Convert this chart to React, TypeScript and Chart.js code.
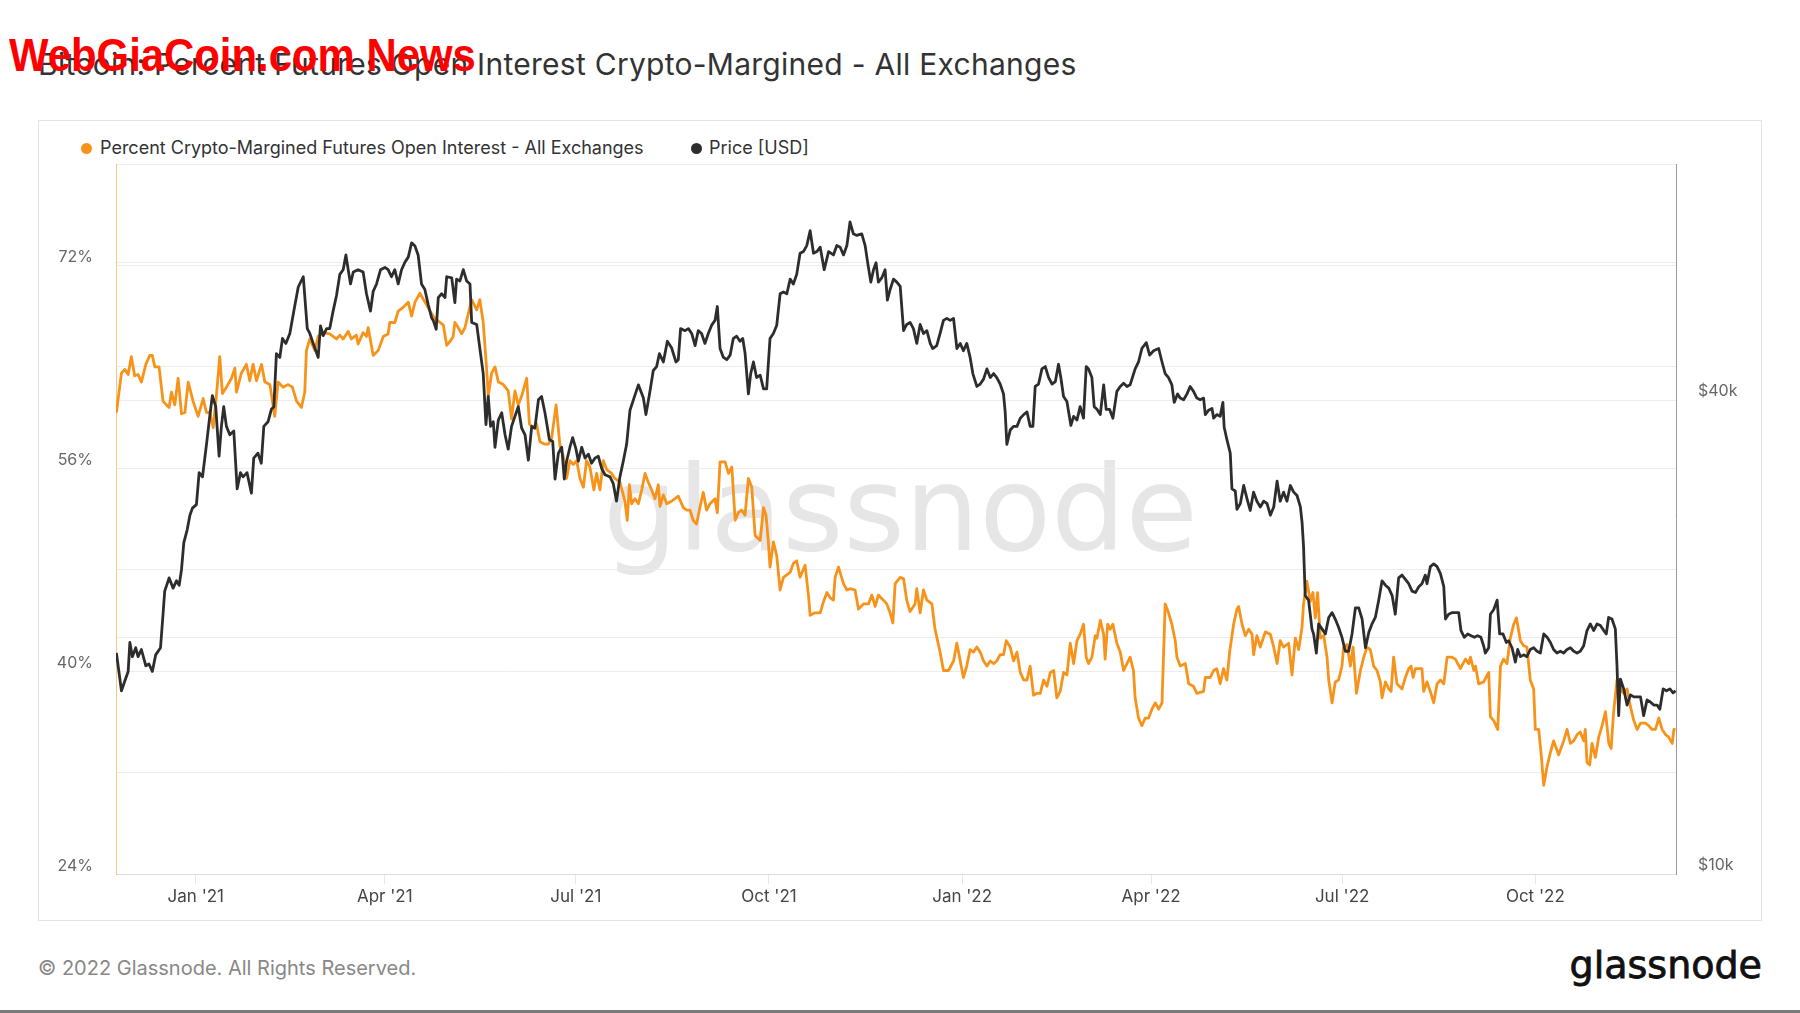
import React, { useEffect, useRef } from "react";
import { Chart, registerables } from "chart.js";

Chart.register(...registerables);

const TITLE = "Bitcoin: Percent Futures Open Interest Crypto-Margined - All Exchanges";
const OVERLAY = "WebGiaCoin.com News";
const LEGEND_OI = "Percent Crypto-Margined Futures Open Interest - All Exchanges";
const LEGEND_PRICE = "Price [USD]";
const FOOTER = "© 2022 Glassnode. All Rights Reserved.";
const WATERMARK = "glassnode";

// x values are days since 1 Jan 2021
const dayMin = -38;
const dayMax = 705;
const quarterTickDays = [0, 90, 181, 273, 365, 455, 546, 638];
const quarterTickLabels = ["Jan '21", "Apr '21", "Jul '21", "Oct '21", "Jan '22", "Apr '22", "Jul '22", "Oct '22"];
const percentGridTicks = [24, 32, 40, 48, 56, 64, 72, 80];
const percentLabelTicks = [24, 40, 56, 72];
const priceGridTicks = [10000, 20000, 40000, 60000, 80000];
const priceLabelTicks = [10000, 40000];

// [day, percent]
const percentOI: [number, number][] = [
  [-37.8, 60.4], [-35.4, 63.5], [-33.8, 63.8], [-32.2, 63.4], [-30.7, 64.8], [-29.1, 63.3], [-27.5, 63.4], [-25.9, 62.8],
  [-23.8, 64.2], [-21.9, 64.9], [-20.7, 64.9], [-19.5, 64.0], [-17.5, 64.0], [-15.6, 61.3], [-14.0, 61.0], [-12.7, 60.8],
  [-11.6, 62.0], [-10.0, 61.0], [-8.4, 63.1], [-6.8, 60.3], [-5.2, 60.4], [-3.6, 62.8], [-1.3, 61.3], [1.1, 60.1],
  [3.5, 61.5], [5.1, 60.4], [6.7, 60.4], [8.3, 59.2], [9.8, 61.7], [11.4, 64.8], [12.7, 61.9], [14.6, 62.4],
  [17.0, 63.1], [18.6, 63.9], [19.4, 62.0], [21.7, 63.5], [24.1, 64.2], [25.7, 62.9], [27.3, 64.2], [28.9, 62.9],
  [31.3, 64.2], [32.9, 62.8], [35.3, 62.6], [37.6, 60.1], [39.2, 62.8], [41.6, 62.4], [44.0, 62.6], [46.0, 62.4],
  [48.0, 61.3], [50.3, 60.8], [51.9, 62.0], [52.7, 65.3], [54.3, 66.2], [56.7, 65.3], [58.3, 66.4], [60.7, 66.7],
  [63.8, 66.6], [67.0, 66.2], [68.6, 66.5], [70.2, 66.2], [72.6, 66.8], [74.1, 66.2], [76.5, 66.5], [77.3, 65.8],
  [79.7, 66.7], [81.3, 66.4], [82.1, 67.1], [84.5, 64.9], [86.9, 65.3], [89.3, 66.4], [91.6, 66.6], [92.4, 67.5],
  [94.8, 67.5], [96.4, 68.4], [98.8, 68.7], [101.2, 69.1], [102.8, 68.0], [104.4, 69.1], [106.7, 69.8], [109.9, 68.9],
  [112.3, 68.2], [113.9, 67.8], [116.3, 67.5], [117.9, 67.3], [119.5, 65.7], [121.1, 66.0], [122.6, 66.4], [123.4, 67.5],
  [125.0, 67.1], [126.6, 66.6], [128.2, 67.1], [129.8, 68.2], [131.4, 69.3], [133.8, 68.5], [135.3, 69.3], [136.9, 67.5],
  [138.5, 63.9], [139.3, 61.7], [140.9, 63.5], [142.5, 64.0], [144.1, 62.8], [146.5, 62.6], [148.8, 62.1], [150.4, 59.9],
  [152.0, 62.1], [153.6, 61.0], [155.2, 61.7], [157.6, 63.1], [158.9, 59.5], [160.7, 59.2], [162.3, 59.5], [163.9, 58.1],
  [166.3, 57.9], [167.9, 57.9], [169.5, 58.4], [171.6, 61.0], [173.5, 57.7], [175.0, 57.0], [176.6, 55.2], [178.2, 56.6],
  [179.8, 56.3], [181.4, 56.6], [183.0, 55.2], [184.6, 54.5], [186.1, 56.6], [187.7, 56.1], [189.6, 54.3], [190.9, 55.6],
  [192.5, 54.3], [194.1, 56.6], [195.7, 55.9], [198.0, 55.6], [199.6, 55.2], [202.0, 54.9], [204.4, 53.4], [205.5, 51.9],
  [206.5, 54.7], [207.6, 53.2], [209.2, 53.6], [210.8, 53.2], [212.4, 54.3], [214.0, 55.6], [215.5, 54.9], [217.1, 54.3],
  [218.7, 53.6], [220.3, 54.7], [221.1, 53.0], [222.7, 53.9], [224.3, 53.2], [226.6, 53.4], [229.8, 53.8], [232.2, 52.9],
  [233.8, 52.7], [235.4, 52.7], [236.9, 51.9], [238.5, 51.6], [240.1, 52.9], [241.7, 54.1], [243.3, 52.7], [244.9, 53.2],
  [247.3, 53.6], [248.4, 52.5], [249.7, 56.5], [252.1, 56.5], [253.7, 55.6], [255.3, 56.1], [256.9, 51.9], [258.4, 52.5],
  [260.0, 52.7], [261.6, 52.3], [263.2, 55.2], [264.8, 54.5], [266.4, 50.7], [268.8, 50.3], [270.4, 52.9], [271.6, 52.3],
  [272.7, 50.2], [273.5, 48.2], [275.1, 50.2], [276.7, 49.1], [278.3, 46.4], [279.9, 47.4], [281.5, 47.6], [283.1, 47.8],
  [284.6, 48.5], [286.2, 48.7], [287.8, 47.4], [290.2, 48.35], [291.8, 46.0], [292.6, 44.4], [295.0, 44.6], [297.4, 44.6],
  [299.0, 45.5], [300.6, 46.2], [302.1, 45.8], [303.7, 45.6], [304.5, 47.4], [306.1, 48.2], [308.5, 46.9], [310.1, 46.4],
  [311.6, 46.5], [314.0, 46.4], [315.6, 44.9], [318.0, 45.3], [320.4, 45.3], [322.0, 46.0], [323.6, 45.1], [325.1, 46.0],
  [327.5, 45.6], [329.1, 45.3], [330.7, 44.6], [332.0, 43.8], [333.1, 46.9], [335.5, 47.4], [337.1, 47.3], [338.6, 45.6],
  [340.2, 44.7], [342.6, 45.3], [343.4, 46.5], [345.0, 44.6], [346.6, 46.4], [348.2, 45.6], [350.6, 45.3], [352.1, 43.3],
  [354.5, 41.5], [356.1, 40.05], [358.5, 40.05], [360.9, 40.8], [362.5, 42.2], [364.1, 40.8], [365.6, 39.5], [367.2, 40.4],
  [368.8, 41.7], [370.4, 41.5], [372.0, 41.9], [373.6, 41.5], [375.2, 40.8], [376.8, 40.4], [378.4, 40.8], [380.0, 40.6],
  [381.5, 40.8], [383.1, 41.3], [384.7, 41.3], [386.0, 42.4], [387.9, 41.9], [389.5, 40.8], [391.1, 41.5], [392.7, 39.9],
  [394.3, 39.3], [395.9, 39.3], [397.4, 40.4], [399.0, 38.1], [400.6, 38.25], [402.2, 38.25], [403.8, 39.3], [405.4, 38.8],
  [407.0, 39.9], [408.6, 40.05], [410.1, 37.9], [411.7, 38.4], [413.3, 39.9], [414.9, 39.7], [416.5, 42.2], [418.1, 40.6],
  [419.7, 42.4], [421.2, 42.9], [422.8, 43.7], [424.1, 41.1], [425.2, 40.6], [426.8, 41.1], [428.4, 42.8], [429.2, 42.6],
  [430.8, 44.0], [432.4, 42.9], [433.1, 40.95], [434.3, 43.7], [435.5, 43.3], [436.8, 43.7], [438.7, 42.2], [440.3, 41.5],
  [441.9, 40.05], [443.5, 40.6], [445.0, 41.1], [446.6, 40.05], [447.4, 37.9], [449.0, 36.3], [450.6, 35.7], [452.2, 36.3],
  [453.8, 36.3], [455.4, 37.0], [457.0, 37.5], [458.6, 37.0], [460.2, 37.5], [461.7, 45.3], [463.3, 44.6], [464.9, 43.7],
  [466.5, 42.4], [467.3, 41.1], [468.9, 40.4], [471.3, 40.6], [472.9, 39.0], [475.2, 38.8], [476.8, 38.25], [480.0, 38.4],
  [480.8, 39.5], [483.2, 39.5], [484.8, 40.05], [486.3, 40.2], [487.9, 39.0], [489.5, 40.2], [491.1, 39.3], [492.4, 41.5],
  [494.3, 43.7], [495.9, 44.9], [496.7, 45.1], [498.3, 43.7], [499.9, 42.8], [501.5, 43.3], [503.1, 42.9], [503.8, 41.3],
  [505.4, 42.8], [507.0, 41.9], [509.4, 43.1], [511.8, 42.9], [513.4, 41.9], [515.0, 40.6], [516.5, 42.4], [518.1, 41.9],
  [520.5, 42.2], [522.1, 39.7], [523.7, 42.6], [525.3, 41.7], [526.9, 43.5], [527.6, 45.3], [529.2, 47.1], [530.8, 45.5],
  [532.1, 46.2], [533.2, 44.2], [534.3, 46.2], [535.6, 42.6], [537.2, 42.8], [538.8, 41.1], [539.6, 39.3], [541.2, 37.5],
  [542.7, 39.15], [544.3, 39.3], [545.9, 40.4], [546.7, 41.9], [548.3, 42.1], [549.9, 40.4], [551.2, 41.9], [552.8, 38.25],
  [554.7, 40.05], [556.3, 41.1], [557.8, 41.9], [559.4, 41.7], [561.0, 40.4], [562.6, 40.05], [564.2, 39.15], [565.0, 37.9],
  [566.6, 39.15], [568.2, 38.6], [569.3, 38.4], [570.5, 41.1], [572.1, 39.0], [574.5, 38.6], [576.1, 39.5], [577.7, 40.2],
  [578.8, 40.4], [579.8, 39.5], [580.9, 40.2], [582.5, 40.2], [584.0, 40.2], [584.8, 38.4], [586.4, 39.15], [588.0, 38.4],
  [589.6, 37.5], [591.2, 39.0], [592.8, 39.3], [594.4, 39.0], [596.0, 41.1], [598.3, 41.1], [599.9, 40.95], [602.3, 40.2],
  [604.7, 40.95], [606.3, 40.6], [607.1, 41.1], [608.7, 40.05], [609.5, 40.4], [611.0, 39.0], [613.4, 39.15], [615.8, 39.9],
  [616.6, 36.4], [618.2, 36.1], [620.1, 35.4], [621.4, 40.4], [622.9, 40.95], [624.5, 40.6], [626.1, 42.6], [627.7, 43.7],
  [629.0, 44.2], [630.9, 42.4], [632.4, 42.0], [634.0, 41.9], [635.6, 39.3], [637.2, 38.6], [638.0, 35.4], [639.6, 35.4],
  [640.7, 33.6], [642.0, 31.0], [643.6, 32.5], [645.2, 33.6], [646.7, 34.5], [649.1, 33.4], [651.5, 34.5], [653.1, 35.4],
  [654.7, 34.3], [656.3, 34.5], [657.9, 35.0], [659.4, 35.2], [661.0, 34.5], [661.8, 35.4], [662.6, 32.8], [663.9, 32.6],
  [665.0, 34.3], [666.6, 33.2], [668.2, 34.8], [669.8, 35.7], [671.4, 36.8], [673.0, 34.3], [674.1, 33.9], [675.3, 36.8],
  [676.9, 39.3], [678.5, 38.6], [680.1, 38.25], [681.7, 38.6], [683.3, 37.2], [684.9, 36.1], [686.5, 35.4], [688.1, 35.9],
  [690.4, 35.9], [692.0, 35.7], [693.6, 35.4], [695.2, 35.4], [696.8, 36.3], [698.4, 35.4], [700.0, 35.0], [701.5, 34.8],
  [703.2, 34.3], [704.0, 35.4], [704.8, 35.4],
];

// [day, USD]
const priceUSD: [number, number][] = [
  [-37.8, 19100], [-35.4, 17100], [-33.8, 17600], [-32.2, 18100], [-31.4, 19700], [-30.2, 18900], [-28.6, 19400], [-27.5, 18900],
  [-25.9, 19300], [-23.8, 18400], [-22.3, 18500], [-20.7, 18100], [-19.1, 19000], [-16.8, 19400], [-15.6, 21400], [-14.8, 22900],
  [-12.7, 23800], [-10.8, 23100], [-9.2, 23600], [-7.9, 23300], [-6.8, 24400], [-5.7, 26400], [-4.1, 27400], [-2.8, 28600],
  [-1.6, 29200], [0.3, 29500], [1.6, 32400], [3.2, 32000], [5.1, 35200], [6.7, 38300], [7.9, 40600], [9.5, 39300],
  [11.1, 34000], [12.2, 37100], [13.3, 39300], [14.6, 37100], [16.2, 36200], [18.1, 36600], [19.7, 30900], [21.3, 32400],
  [22.5, 32000], [24.4, 32400], [26.5, 30500], [27.6, 33800], [29.6, 34300], [31.2, 33300], [32.4, 37100], [34.4, 37600],
  [36.0, 39000], [37.2, 39300], [38.4, 45900], [40.0, 45400], [41.3, 48000], [42.9, 47300], [44.8, 48700], [46.7, 52000],
  [48.8, 55800], [51.2, 57500], [53.1, 49400], [54.3, 48700], [56.3, 47000], [58.3, 45400], [59.4, 49800], [60.7, 48400],
  [62.3, 49400], [63.8, 49400], [65.4, 52000], [67.0, 54400], [68.6, 57900], [70.2, 58700], [71.5, 61300], [72.6, 58700],
  [73.7, 56300], [75.0, 58300], [77.3, 58700], [79.7, 58300], [81.3, 54700], [83.2, 52000], [84.5, 55100], [86.1, 56300],
  [88.0, 58700], [90.1, 59100], [91.6, 58700], [93.2, 57500], [94.8, 58700], [96.4, 56300], [98.0, 58700], [99.6, 60000],
  [101.2, 60900], [102.8, 63500], [104.4, 62900], [105.9, 61300], [107.5, 56300], [109.1, 55400], [110.7, 53000], [112.3, 51000],
  [113.1, 50600], [114.5, 49300], [115.5, 54100], [117.1, 54700], [118.7, 54100], [119.5, 57500], [121.9, 57300], [123.4, 53300],
  [124.2, 57100], [125.8, 56800], [127.4, 58700], [129.0, 56800], [130.6, 56300], [131.4, 50300], [133.8, 50000], [135.3, 46600],
  [136.9, 43300], [138.2, 37300], [139.3, 40500], [140.4, 37100], [141.7, 37600], [142.5, 34900], [144.1, 37800], [145.7, 38600],
  [147.3, 36200], [148.8, 34700], [150.4, 37100], [152.0, 38200], [153.6, 39300], [155.2, 36900], [156.8, 36200], [158.4, 33600],
  [160.0, 37100], [161.5, 36900], [163.2, 40100], [164.7, 40500], [166.3, 38600], [167.1, 37500], [168.4, 35700], [170.0, 35500],
  [171.1, 31800], [172.7, 34300], [174.3, 34900], [175.5, 31800], [176.6, 33500], [178.2, 34900], [179.5, 35900], [181.1, 34700],
  [182.2, 33500], [183.8, 34900], [185.4, 33800], [187.0, 34200], [188.5, 33300], [190.1, 33800], [191.7, 34000], [193.3, 32800],
  [194.9, 32200], [197.3, 32000], [198.8, 31400], [200.4, 29800], [202.0, 32000], [203.6, 33500], [205.2, 35200], [206.8, 38900],
  [208.7, 40300], [210.8, 41900], [213.2, 40300], [214.4, 38400], [216.3, 41100], [217.9, 43700], [219.5, 44200], [220.8, 45900],
  [222.7, 44800], [224.6, 47600], [226.6, 46700], [228.7, 44800], [229.8, 45100], [230.9, 49400], [233.0, 49100], [234.6, 49400],
  [236.2, 48700], [237.8, 47000], [239.3, 49100], [240.9, 48700], [242.5, 47300], [244.1, 48700], [245.7, 49900], [247.3, 50600],
  [248.4, 52700], [249.7, 46600], [251.3, 45400], [252.9, 45100], [254.5, 45700], [256.0, 48000], [257.6, 48300], [259.2, 47600],
  [260.5, 48000], [261.6, 46000], [263.2, 40800], [264.3, 43300], [265.6, 44800], [267.1, 42800], [268.8, 43100], [270.4, 41400],
  [271.9, 41400], [273.5, 48000], [275.1, 48700], [276.7, 49900], [278.3, 54700], [279.9, 55000], [281.5, 54700], [283.1, 57100],
  [284.6, 56300], [286.2, 57900], [287.8, 61600], [289.4, 61900], [291.0, 63000], [292.6, 65800], [294.2, 61600], [295.8, 61900],
  [297.4, 62700], [299.3, 58700], [301.4, 61900], [303.7, 61300], [305.3, 63000], [306.9, 62700], [308.5, 61300], [310.1, 63000],
  [311.6, 67500], [313.2, 65200], [314.8, 64900], [317.2, 65200], [318.8, 63000], [319.9, 60200], [321.5, 56600], [322.8, 58700],
  [324.0, 59900], [325.1, 56600], [326.7, 57300], [328.3, 58700], [329.4, 53700], [330.7, 55400], [332.3, 57100], [333.9, 56600],
  [335.5, 55900], [337.1, 49100], [338.6, 50000], [340.2, 50300], [341.8, 49400], [343.4, 47300], [345.0, 50000], [346.6, 48700],
  [348.2, 49100], [349.8, 47300], [351.0, 46600], [352.9, 47000], [354.5, 48700], [356.1, 50600], [357.7, 50900], [359.3, 50600],
  [360.9, 50900], [362.5, 46600], [364.1, 47300], [365.6, 46300], [367.2, 47300], [368.8, 45400], [370.1, 43300], [372.0, 41700],
  [373.6, 42000], [375.2, 42600], [376.8, 43900], [378.4, 42800], [380.0, 43300], [381.5, 42800], [383.1, 42000], [384.7, 40800],
  [385.5, 38700], [386.3, 35200], [387.9, 36700], [389.5, 37100], [391.1, 37100], [392.7, 38000], [394.3, 38400], [395.9, 38700],
  [397.4, 37100], [398.7, 37100], [399.8, 41700], [401.4, 42000], [403.0, 43900], [404.6, 44200], [406.2, 42800], [407.8, 42000],
  [409.4, 42300], [410.9, 44500], [412.0, 42800], [413.3, 40500], [414.9, 39900], [416.8, 37200], [418.1, 38200], [419.7, 37800],
  [421.2, 39300], [422.8, 38000], [424.1, 44200], [425.2, 43900], [426.8, 42800], [427.9, 39300], [429.2, 39000], [430.8, 38400],
  [432.4, 41900], [433.6, 39000], [435.2, 39000], [436.8, 38000], [438.7, 41100], [440.3, 41700], [441.9, 42100], [443.5, 41700],
  [445.0, 41900], [447.4, 43900], [449.0, 44800], [450.6, 46600], [452.7, 47400], [454.3, 45700], [456.2, 46300], [458.6, 46600],
  [460.2, 44800], [461.7, 43300], [463.3, 42800], [464.9, 41900], [466.0, 39800], [467.6, 40800], [468.9, 40300], [470.5, 40100],
  [472.1, 40800], [473.6, 41700], [475.2, 41100], [476.8, 40300], [478.4, 40100], [480.0, 40300], [480.8, 38400], [482.4, 38900],
  [484.0, 39100], [484.8, 38000], [486.3, 38400], [487.9, 38200], [489.2, 39800], [489.8, 37000], [491.1, 35700], [492.7, 34300],
  [493.5, 30900], [495.1, 30700], [495.9, 29100], [497.5, 29600], [499.1, 31200], [500.7, 30000], [502.2, 29000], [503.8, 30600],
  [505.4, 29800], [507.0, 29300], [508.6, 29800], [510.2, 29600], [511.8, 28600], [513.4, 29300], [515.0, 31600], [516.5, 29800],
  [518.1, 30600], [519.7, 29800], [521.3, 31200], [522.9, 30600], [524.5, 30300], [526.1, 29300], [526.9, 28000], [527.6, 26100],
  [528.4, 22600], [530.0, 22300], [531.6, 20500], [532.4, 20200], [533.7, 19100], [534.8, 20800], [536.4, 20500], [538.0, 20200],
  [539.6, 21200], [541.2, 21500], [542.7, 21100], [544.3, 20600], [545.9, 20000], [547.5, 19200], [549.1, 19200], [550.7, 20200],
  [552.3, 21800], [553.9, 21800], [555.5, 21100], [557.1, 19400], [558.7, 20300], [560.2, 20800], [561.8, 21200], [563.4, 22300],
  [565.0, 23600], [566.6, 23300], [568.2, 23100], [569.8, 22600], [571.3, 21400], [572.9, 23800], [574.5, 24000], [576.1, 23700],
  [577.7, 23400], [579.3, 22900], [580.9, 22800], [582.5, 23200], [584.0, 23400], [585.6, 24000], [586.4, 23400], [588.0, 24600],
  [589.6, 24800], [591.2, 24600], [592.8, 24100], [594.4, 23200], [595.2, 21100], [596.7, 21400], [598.3, 21500], [599.9, 21500],
  [601.5, 21500], [602.6, 20400], [604.2, 20000], [605.8, 20200], [607.4, 20100], [609.0, 20000], [610.5, 20100], [612.1, 20000],
  [613.4, 19500], [614.2, 19100], [615.8, 19400], [616.6, 21400], [618.2, 21700], [619.8, 22300], [621.0, 20200], [622.6, 20200],
  [624.2, 19700], [625.3, 19800], [626.9, 19400], [628.5, 18600], [629.6, 19300], [630.9, 18900], [632.4, 19000], [634.0, 18900],
  [635.6, 19300], [637.2, 19400], [638.8, 19200], [640.4, 19100], [642.0, 20200], [643.6, 20000], [645.2, 19700], [646.7, 19300],
  [648.3, 19100], [649.9, 19200], [651.5, 19100], [653.1, 19300], [654.7, 19400], [656.3, 19200], [657.9, 19100], [659.4, 19200],
  [661.0, 19500], [662.6, 20400], [664.2, 20800], [665.8, 20400], [667.4, 20800], [669.0, 20700], [670.6, 20400], [671.8, 20200],
  [672.9, 21200], [674.5, 21100], [676.1, 20500], [676.9, 18400], [677.7, 15900], [678.5, 17700], [680.1, 17200], [681.7, 16400],
  [683.3, 16900], [684.9, 16800], [686.5, 16800], [688.1, 16800], [689.6, 15900], [691.2, 16650], [692.8, 16550], [694.4, 16400],
  [696.0, 16400], [697.3, 16200], [698.9, 17200], [700.5, 17100], [702.1, 17200], [703.6, 17000], [704.8, 17100],
];

const ORANGE = "#f7931a";
const DARK = "#2d2d2d";
const FONT = "Inter, 'Noto Sans', sans-serif";

export default function App() {
  const canvasRef = useRef<HTMLCanvasElement | null>(null);

  useEffect(() => {
    document.body.style.margin = "0";
    document.body.style.background = "#ffffff";
    const canvas = canvasRef.current;
    if (!canvas) return;
    Chart.defaults.font.family = FONT;
    const chart = new Chart(canvas, {
      type: "line",
      data: {
        datasets: [
          {
            label: LEGEND_OI,
            data: percentOI.map(([x, y]) => ({ x, y })),
            yAxisID: "yL",
            borderColor: ORANGE,
            backgroundColor: ORANGE,
            borderWidth: 2.8,
            pointRadius: 0,
            tension: 0,
            borderJoinStyle: "round",
            order: 1,
          },
          {
            label: LEGEND_PRICE,
            data: priceUSD.map(([x, y]) => ({ x, y })),
            yAxisID: "yR",
            borderColor: DARK,
            backgroundColor: DARK,
            borderWidth: 2.8,
            pointRadius: 0,
            tension: 0,
            borderJoinStyle: "round",
            order: 0,
          },
        ],
      },
      options: {
        animation: false,
        responsive: false,
        maintainAspectRatio: false,
        layout: { padding: { top: 44, left: 0, right: 0, bottom: 0 } },
        plugins: { legend: { display: false }, tooltip: { enabled: false } },
        scales: {
          x: {
            type: "linear",
            min: dayMin,
            max: dayMax,
            afterBuildTicks: (scale: any) => {
              scale.ticks = quarterTickDays.map((v) => ({ value: v }));
            },
            afterFit: (scale: any) => {
              scale.height = 47;
            },
            ticks: {
              autoSkip: false,
              maxRotation: 0,
              padding: 3,
              color: "#444444",
              font: { family: FONT, size: 17 },
              callback: (v: any) => {
                const i = quarterTickDays.indexOf(Number(v));
                return i >= 0 ? quarterTickLabels[i] : "";
              },
            },
            grid: { drawOnChartArea: false, drawTicks: true, tickLength: 10, color: "#e6e6e6" },
            border: { display: true, color: "#dddddd" },
          },
          yL: {
            type: "linear",
            position: "left",
            min: 24,
            max: 80,
            afterBuildTicks: (scale: any) => {
              scale.ticks = percentGridTicks.map((v) => ({ value: v }));
            },
            afterFit: (scale: any) => {
              scale.width = 78;
            },
            ticks: {
              padding: 23,
              labelOffset: -8,
              color: "#666666",
              font: { family: FONT, size: 16 },
              callback: (v: any) => (percentLabelTicks.includes(Number(v)) ? `${v}%` : ""),
            },
            grid: { color: "#ececec", drawTicks: false },
            border: { display: true, color: "rgba(247,147,26,0.55)" },
          },
          yR: {
            type: "logarithmic",
            position: "right",
            min: 10000,
            max: 80000,
            afterBuildTicks: (scale: any) => {
              scale.ticks = priceGridTicks.map((v) => ({ value: v }));
            },
            afterFit: (scale: any) => {
              scale.width = 86;
            },
            ticks: {
              padding: 22,
              labelOffset: -9,
              color: "#666666",
              font: { family: FONT, size: 16 },
              callback: (v: any) => (priceLabelTicks.includes(Number(v)) ? `$${Number(v) / 1000}k` : ""),
            },
            grid: { color: "#ececec", drawTicks: false },
            border: { display: true, color: "#9a9a9a" },
          },
        },
      },
    } as any);
    return () => chart.destroy();
  }, []);

  const abs = (s: React.CSSProperties): React.CSSProperties => ({ position: "absolute", ...s });

  return (
    <div style={abs({ left: 0, top: 0, width: 1800, height: 1013, background: "#fff", overflow: "hidden", fontFamily: FONT })}>
      <div style={abs({ left: 38, top: 45, fontSize: 30, lineHeight: "38px", letterSpacing: 0.27, color: "#333", whiteSpace: "nowrap" })}>{TITLE}</div>
      <div
        style={abs({
          left: 9,
          top: 32,
          fontFamily: "'Liberation Sans', Arial, sans-serif",
          fontWeight: 700,
          fontSize: 46,
          lineHeight: "46px",
          color: "#ff0000",
          whiteSpace: "nowrap",
          transform: "scaleX(0.91)",
          transformOrigin: "left center",
        })}
      >
        {OVERLAY}
      </div>
      <div style={abs({ left: 38, top: 120, width: 1722, height: 799, border: "1px solid #e3e3e3" })} />
      <div
        style={abs({
          left: 603,
          top: 451,
          fontFamily: "'DejaVu Sans', sans-serif",
          fontSize: 117.5,
          lineHeight: "117.5px",
          color: "#e6e6e6",
          whiteSpace: "nowrap",
        })}
      >
        {WATERMARK}
      </div>
      <div style={abs({ left: 80.5, top: 142.5, width: 11, height: 11, borderRadius: 6, background: ORANGE })} />
      <div style={abs({ left: 100, top: 136, fontSize: 18, lineHeight: "23px", color: "#333", whiteSpace: "nowrap" })}>{LEGEND_OI}</div>
      <div style={abs({ left: 690.5, top: 142.5, width: 11, height: 11, borderRadius: 6, background: DARK })} />
      <div style={abs({ left: 709, top: 136, fontSize: 18, lineHeight: "23px", color: "#333", whiteSpace: "nowrap" })}>{LEGEND_PRICE}</div>
      <canvas ref={canvasRef} width={1724} height={801} style={abs({ left: 38, top: 120, width: 1724, height: 801 })} />
      <div style={abs({ left: 38, top: 956, fontSize: 20, lineHeight: "25px", color: "#888", whiteSpace: "nowrap" })}>{FOOTER}</div>
      <div
        style={abs({
          right: 38,
          top: 946,
          fontFamily: "'DejaVu Sans', sans-serif",
          fontSize: 38,
          lineHeight: "38px",
          color: "#111",
          WebkitTextStroke: "0.8px #111",
          whiteSpace: "nowrap",
        })}
      >
        {WATERMARK}
      </div>
      <div style={abs({ left: 0, top: 1010, width: 1800, height: 3, background: "#7a7a7a" })} />
    </div>
  );
}
